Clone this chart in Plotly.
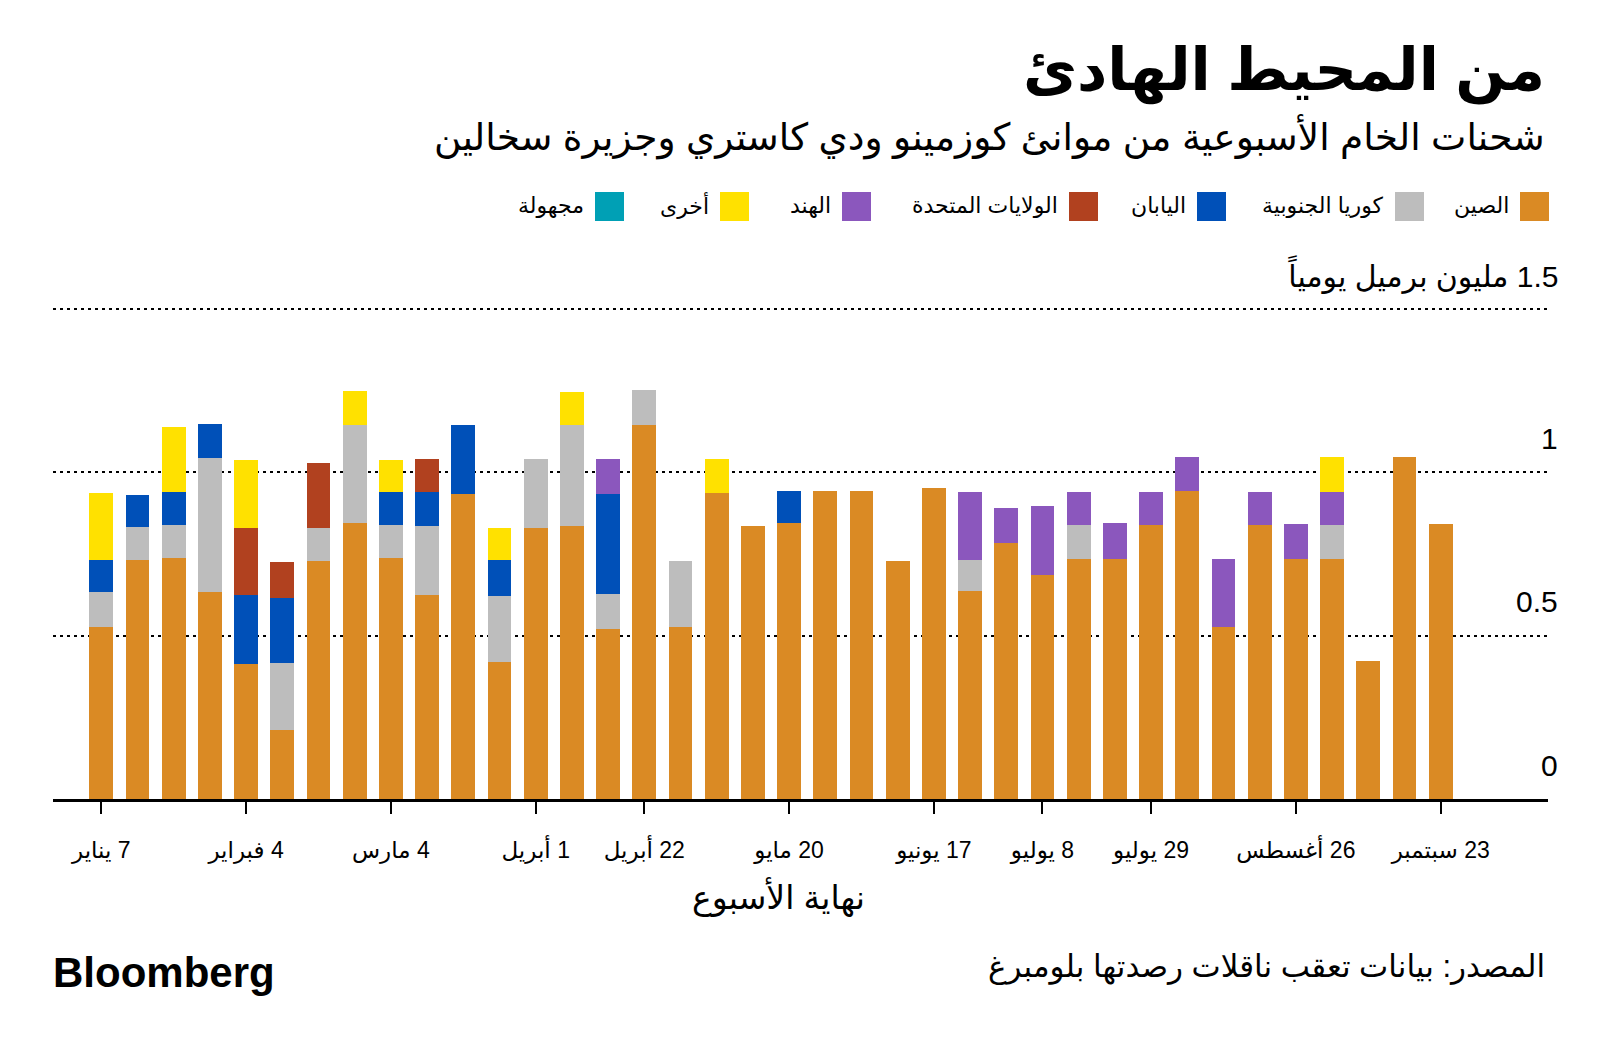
import plotly.graph_objects as go

# ---------------- data ----------------
weeks = [
    "2023-01-07", "2023-01-14", "2023-01-21", "2023-01-28",
    "2023-02-04", "2023-02-11", "2023-02-18", "2023-02-25",
    "2023-03-04", "2023-03-11", "2023-03-18", "2023-03-25",
    "2023-04-01", "2023-04-08", "2023-04-15", "2023-04-22", "2023-04-29",
    "2023-05-06", "2023-05-13", "2023-05-20", "2023-05-27",
    "2023-06-03", "2023-06-10", "2023-06-17", "2023-06-24",
    "2023-07-01", "2023-07-08", "2023-07-15", "2023-07-22", "2023-07-29",
    "2023-08-05", "2023-08-12", "2023-08-19", "2023-08-26",
    "2023-09-02", "2023-09-09", "2023-09-16", "2023-09-23",
]

china = [0.527, 0.731, 0.738, 0.632, 0.413, 0.21, 0.728, 0.843, 0.738, 0.624, 0.934, 0.42, 0.83,
         0.835, 0.519, 1.145, 0.527, 0.935, 0.835, 0.844, 0.942, 0.942, 0.729, 0.95, 0.635, 0.782, 0.684,
         0.734, 0.735, 0.838, 0.941, 0.527, 0.838, 0.735, 0.735, 0.421, 1.046, 0.84]
south_korea = [0.105, 0.1, 0.1, 0.41, 0, 0.205, 0.1, 0.3, 0.1, 0.21, 0, 0.2, 0.21,
               0.31, 0.108, 0.106, 0.2, 0, 0, 0, 0, 0, 0, 0, 0.097, 0, 0,
               0.104, 0, 0, 0, 0, 0, 0, 0.103, 0, 0, 0]
japan = [0.1, 0.1, 0.1, 0.105, 0.21, 0.2, 0, 0, 0.1, 0.105, 0.21, 0.11, 0,
         0, 0.306, 0, 0, 0, 0, 0.098, 0, 0, 0, 0, 0, 0, 0,
         0, 0, 0, 0, 0, 0, 0, 0, 0, 0, 0]
usa = [0, 0, 0, 0, 0.205, 0.11, 0.2, 0, 0, 0.1, 0, 0, 0,
       0, 0, 0, 0, 0, 0, 0, 0, 0, 0, 0, 0, 0, 0,
       0, 0, 0, 0, 0, 0, 0, 0, 0, 0, 0]
india = [0, 0, 0, 0, 0, 0, 0, 0, 0, 0, 0, 0, 0,
         0, 0.107, 0, 0, 0, 0, 0, 0, 0, 0, 0, 0.208, 0.107, 0.213,
         0.102, 0.11, 0.102, 0.105, 0.208, 0.102, 0.105, 0.102, 0, 0, 0]
other = [0.204, 0, 0.2, 0, 0.21, 0, 0, 0.106, 0.1, 0, 0, 0.1, 0,
         0.1, 0, 0, 0, 0.104, 0, 0, 0, 0, 0, 0, 0, 0, 0,
         0, 0, 0, 0, 0, 0, 0, 0.106, 0, 0, 0]
unknown = [0, 0, 0, 0, 0, 0, 0, 0, 0, 0, 0, 0, 0,
           0, 0, 0, 0, 0, 0, 0, 0, 0, 0, 0, 0, 0, 0,
           0, 0, 0, 0, 0, 0, 0, 0, 0, 0, 0]

series_names = ["الصين", "كوريا الجنوبية", "اليابان", "الولايات المتحدة", "الهند", "أخرى", "مجهولة"]
series_values = [china, south_korea, japan, usa, india, other, unknown]
series_colors = ["#DA8A24", "#BDBDBD", "#0050B8", "#B1411F", "#8B57BD", "#FFE100", "#00A0B5"]

xtick_vals = ["2023-01-07", "2023-02-04", "2023-03-04", "2023-04-01", "2023-04-22", "2023-05-20",
              "2023-06-17", "2023-07-08", "2023-07-29", "2023-08-26", "2023-09-23"]
xtick_text = ["7 يناير", "4 فبراير", "4 مارس", "1 أبريل", "22 أبريل", "20 مايو",
              "17 يونيو", "8 يوليو", "29 يوليو", "26 أغسطس", "23 سبتمبر"]
ytick_vals = [0, 0.5, 1, 1.5]
ytick_text = ["0", "0.5", "1", "1.5 مليون برميل يومياً"]

title = "من المحيط الهادئ"
subtitle = "شحنات الخام الأسبوعية من موانئ كوزمينو ودي كاستري وجزيرة سخالين"
x_title = "نهاية الأسبوع"
source = "المصدر: بيانات تعقب ناقلات رصدتها بلومبرغ"

# ---------------- layout helpers ----------------
W, H = 1600, 1050
ML, MR, MT, MB = 53, 52, 276, 251
PW, PH = W - ML - MR, H - MT - MB
FONT = "Liberation Sans, DejaVu Sans, Arial, sans-serif"


def rtl(s):
    return "\u202B" + s + "\u202C"


def xp(px):
    return (px - ML) / PW


def yp(py):
    return (H - MB - py) / PH


WEEK_MS = 7 * 24 * 3600 * 1000

fig = go.Figure()
for name, vals, col in zip(series_names, series_values, series_colors):
    fig.add_trace(go.Bar(
        x=weeks, y=vals, name=name, marker=dict(color=col, line=dict(width=0)),
        width=0.66 * WEEK_MS, showlegend=False,
    ))

annotations = []
shapes = []

# titles
annotations.append(dict(text=rtl(title), x=xp(1547), y=yp(71), xref="paper", yref="paper",
                        xanchor="right", yanchor="middle", showarrow=False,
                        font=dict(family=FONT, size=59, color="#000000", weight="bold")))
annotations.append(dict(text=rtl(subtitle), x=xp(1547), y=yp(137), xref="paper", yref="paper",
                        xanchor="right", yanchor="middle", showarrow=False,
                        font=dict(family=FONT, size=37.5, color="#000000")))

# custom legend (right to left)
legend_left = [1520, 1395, 1197, 1069, 842, 720, 595]
SW = 29
for name, col, lx in zip(series_names, series_colors, legend_left):
    shapes.append(dict(type="rect", xref="paper", yref="paper",
                       x0=xp(lx), x1=xp(lx + SW), y0=yp(192), y1=yp(221),
                       fillcolor=col, line=dict(width=0)))
    annotations.append(dict(text=rtl(name), x=xp(lx - 9), y=yp(205), xref="paper", yref="paper",
                            xanchor="right", yanchor="middle", showarrow=False,
                            font=dict(family=FONT, size=22, color="#000000")))

# y tick labels above gridlines
for v, t in zip(ytick_vals, ytick_text):
    annotations.append(dict(text=rtl(t), x=xp(1560), y=v, xref="paper", yref="y",
                            xanchor="right", yanchor="middle", yshift=34, showarrow=False,
                            font=dict(family=FONT, size=30, color="#000000")))

# x axis title
annotations.append(dict(text=rtl(x_title), x=xp(778), y=yp(897), xref="paper", yref="paper",
                        xanchor="center", yanchor="middle", showarrow=False,
                        font=dict(family=FONT, size=33, color="#000000")))

# footer
annotations.append(dict(text="Bloomberg", x=xp(51), y=yp(972), xref="paper", yref="paper",
                        xanchor="left", yanchor="middle", showarrow=False,
                        font=dict(family="Liberation Sans, Arial, sans-serif", size=42,
                                  color="#000000", weight="bold")))
annotations.append(dict(text=rtl(source), x=xp(1547), y=yp(967), xref="paper", yref="paper",
                        xanchor="right", yanchor="middle", showarrow=False,
                        font=dict(family=FONT, size=31, color="#000000")))

fig.update_layout(
    width=W, height=H,
    margin=dict(l=ML, r=MR, t=MT, b=MB, pad=0),
    paper_bgcolor="#ffffff", plot_bgcolor="#ffffff",
    barmode="stack", bargap=0,
    showlegend=False,
    font=dict(family=FONT, color="#000000"),
    annotations=annotations, shapes=shapes,
    xaxis=dict(
        type="date",
        range=["2022-12-28 16:00", "2023-10-13 18:00"],
        tickmode="array", tickvals=xtick_vals, ticktext=[rtl(t) for t in xtick_text],
        ticks="outside", ticklen=12, tickwidth=2, tickcolor="#000000",
        showline=True, linecolor="#000000", linewidth=3,
        showgrid=False, zeroline=False,
        tickfont=dict(family=FONT, size=23, color="#000000"),
        ticklabelstandoff=16,
        fixedrange=True,
    ),
    yaxis=dict(
        range=[0, 1.6],
        tickmode="array", tickvals=[0.5, 1, 1.5],
        showticklabels=False, ticks="",
        showgrid=True, gridcolor="#000000", gridwidth=1.5, griddash="3px,4px",
        zeroline=False, showline=False,
        fixedrange=True,
    ),
)

fig.write_html("out.html", post_script="document.body.style.margin='0';",
               config={"displayModeBar": False})
